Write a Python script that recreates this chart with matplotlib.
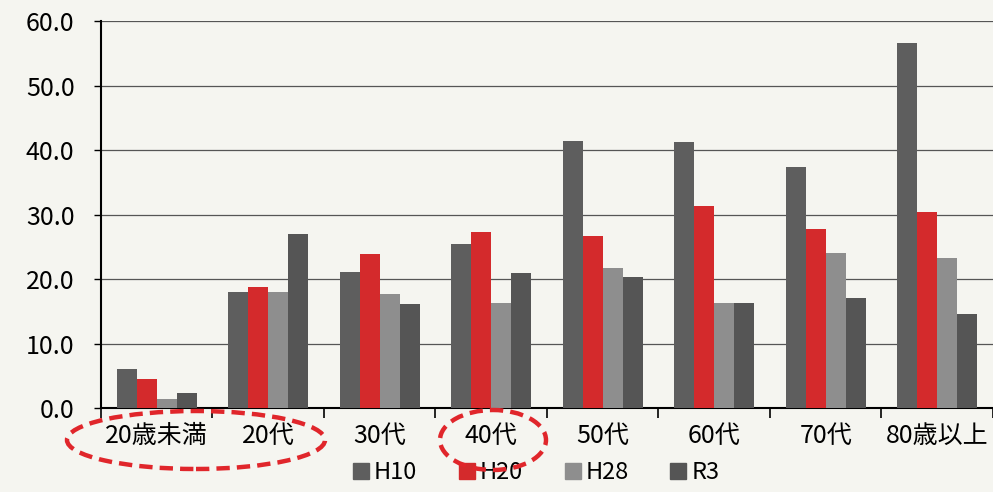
import matplotlib
matplotlib.use("Agg")
import matplotlib.pyplot as plt
from matplotlib.patches import Ellipse
from matplotlib.lines import Line2D
import numpy as np

plt.rcParams['font.family'] = ['Noto Sans CJK JP', 'DejaVu Sans']

categories = ["20歳未満", "20代", "30代", "40代", "50代", "60代", "70代", "80歳以上"]
series_names = ["H10", "H20", "H28", "R3"]
H10 = [6.0, 18.0, 21.1, 25.4, 41.4, 41.2, 37.4, 56.7]
H20 = [4.5, 18.8, 23.9, 27.3, 26.7, 31.3, 27.8, 30.4]
H28 = [1.4, 18.0, 17.7, 16.3, 21.7, 16.3, 24.0, 23.3]
R3 = [2.3, 27.0, 16.1, 20.9, 20.3, 16.3, 17.1, 14.6]
yticks = [0, 10, 20, 30, 40, 50, 60]
ytick_labels = ["0.0", "10.0", "20.0", "30.0", "40.0", "50.0", "60.0"]

colors = ["#5e5e5e", "#d42a2c", "#8e8e8e", "#555555"]
bg = "#f5f5f0"

fig = plt.figure(figsize=(9.93, 4.92), dpi=100, facecolor=bg)
ax = fig.add_axes([0.1017, 0.1707, 0.8983, 0.786])
ax.set_facecolor(bg)

x = np.arange(len(categories))
w = 0.18
for i, (name, vals) in enumerate(zip(series_names, [H10, H20, H28, R3])):
    ax.bar(x + (i - 1.5) * w, vals, width=w, color=colors[i], label=name, zorder=3)

ax.set_xlim(-0.5, len(categories) - 0.5)
ax.set_ylim(0, 60)
ax.set_yticks(yticks)
ax.set_yticklabels(ytick_labels, fontsize=18)
ax.set_xticks(x)
ax.set_xticklabels(categories, fontsize=18)
ax.tick_params(axis='x', which='major', length=0, pad=11)
ax.set_xticks(np.arange(-0.5, len(categories), 1.0), minor=True)
ax.tick_params(axis='x', which='minor', length=7, width=1.2, direction='out')
ax.tick_params(axis='y', length=5, width=1, direction='out', pad=14)
ax.grid(axis='y', color='#555555', linewidth=0.9, zorder=0)

for s in ['top', 'right']:
    ax.spines[s].set_visible(False)
ax.spines['left'].set_linewidth(1.5)
ax.spines['bottom'].set_linewidth(1.5)

handles = [Line2D([], [], marker='s', linestyle='none', markersize=11,
                  markerfacecolor=c, markeredgecolor=c) for c in colors]
fig.legend(handles, series_names, loc='lower center', bbox_to_anchor=(0.54, -0.008),
           ncol=4, frameon=False, fontsize=17, handlelength=0.7,
           handletextpad=0.2, columnspacing=1.75, borderpad=0.0)

# red dashed ellipses (annotations)
for cx, cy, ew, eh in [(196, 440, 258, 58), (493, 440, 106, 60)]:
    e = Ellipse((cx / 993, 1 - cy / 492), ew / 993, eh / 492,
                transform=fig.transFigure, fill=False, edgecolor='#e0262b',
                linewidth=3.2, linestyle=(0, (3, 1.6)), zorder=10)
    fig.add_artist(e)

fig.savefig("out.png", dpi=100, facecolor=bg)
